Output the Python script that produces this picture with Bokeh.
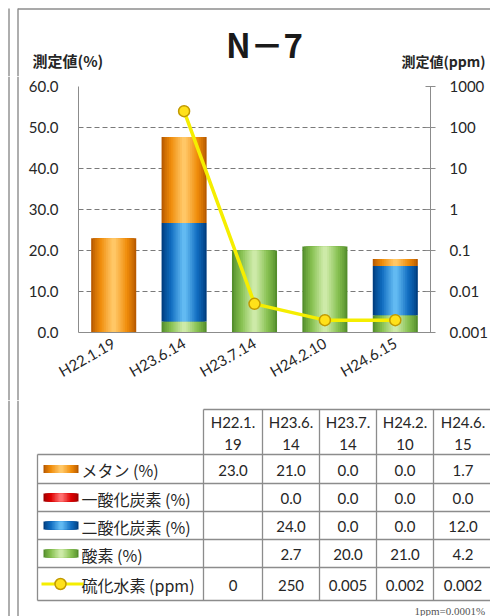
from bokeh.plotting import figure
from bokeh.models import (ColumnDataSource, Range1d, FactorRange, LogAxis,
                          FixedTicker, LogScale, NumeralTickFormatter)
from bokeh.layouts import column, row
from bokeh.embed import file_html
from bokeh.resources import INLINE
from bokeh.core.properties import value

# ---------------- data ----------------
dates = ["H22.1.19", "H23.6.14", "H23.7.14", "H24.2.10", "H24.6.15"]
methane = [23.0, 21.0, 0.0, 0.0, 1.7]
carbon_monoxide = [None, 0.0, 0.0, 0.0, 0.0]
carbon_dioxide = [None, 24.0, 0.0, 0.0, 12.0]
oxygen = [None, 2.7, 20.0, 21.0, 4.2]
h2s_ppm = [0, 250, 0.005, 0.002, 0.002]

series_labels = ["メタン (%)", "一酸化炭素 (%)", "二酸化炭素 (%)", "酸素 (%)", "硫化水素 (ppm)"]
pct_ticks = [0, 10, 20, 30, 40, 50, 60]
ppm_ticks = [0.001, 0.01, 0.1, 1, 10, 100, 1000]
ppm_tick_labels = ["0.001", "0.01", "0.1", "1", "10", "100", "1000"]
title_text = "N－7"
left_unit_text = "測定値(%)"
right_unit_text = "測定値(ppm)"
footnote_text = "1ppm=0.0001%"

# ---------------- styles ----------------
JP_NAME = "Noto Sans CJK JP"
NUM_NAME = "Lato"
JP = value(JP_NAME)
NUM = value(NUM_NAME)
GRAY = "#8c8c8c"
TXT = "#262626"
shade = {  # edge, mid, centre colours for the cylinder shading
    "ch4": ("#B85A00", "#F08C0A", "#FFC766"),
    "co": ("#A00000", "#DE0000", "#FF7070"),
    "co2": ("#003E80", "#106CC0", "#62BAF2"),
    "o2": ("#548E2C", "#86C050", "#CDEAA8"),
}
N_LAYERS = 12
layers = [(1.0 - 0.9 * i / (N_LAYERS - 1), (i / (N_LAYERS - 1)) ** 0.8) for i in range(N_LAYERS)]


def hx(c):
    return tuple(int(c[i:i + 2], 16) for i in (1, 3, 5))


def mix(stops, t):
    a, m, b = (hx(s) for s in stops)
    if t <= 0.5:
        u, lo, hi = t / 0.5, a, m
    else:
        u, lo, hi = (t - 0.5) / 0.5, m, b
    return "#%02x%02x%02x" % tuple(round(lo[i] + (hi[i] - lo[i]) * u) for i in range(3))


def num0(v):
    return 0.0 if v is None else v


def blank(w, h):
    f = figure(width=w, height=h, x_range=Range1d(0, w), y_range=Range1d(h, 0),
               x_axis_type=None, y_axis_type=None, min_border=0,
               output_backend="svg", toolbar_location=None)
    f.grid.visible = False
    f.outline_line_color = None
    f.frame_align = False
    return f


W = 490
H_HEAD, H_CHART, H_TAB = 76, 324, 216
STRIP = 20

# ---------------- header ----------------
hd = blank(W, H_HEAD)
hd.segment(x0=[8.5, 17.5, 17.5], y0=[8, 8, 8.5], x1=[8.5, 17.5, W], y1=[H_HEAD, H_HEAD, 8.5],
           line_color=GRAY, line_width=1.4)
hd.text(x=[264], y=[43], text=[title_text], text_align="center", text_baseline="middle",
        text_font=JP, text_font_size="33px", text_font_style="bold", text_color="#1a1a1a")
hd.text(x=[32], y=[60], text=[left_unit_text], text_align="left",
        text_baseline="middle", text_font=JP, text_font_size="15px", text_font_style="bold",
        text_color=TXT)
hd.text(x=[401], y=[60], text=[right_unit_text], text_align="left",
        text_baseline="middle", text_font=JP, text_font_size="14px", text_font_style="bold",
        text_color=TXT)

# ---------------- left strip beside the chart ----------------
st = blank(STRIP, H_CHART)
st.segment(x0=[8.5, 17.5], y0=[0, 0], x1=[8.5, 17.5], y1=[H_CHART, H_CHART],
           line_color=GRAY, line_width=1.4)

# ---------------- chart ----------------
p = figure(x_range=FactorRange(*dates), y_range=Range1d(0, 60), width=W - STRIP, height=H_CHART,
           output_backend="svg", toolbar_location=None,
           min_border_left=58, min_border_right=55, min_border_top=10, min_border_bottom=68)
p.frame_align = False
p.outline_line_color = None
p.xgrid.visible = False
p.ygrid.grid_line_color = "#7a7a7a"
p.ygrid.grid_line_dash = "5 3"
p.ygrid.grid_line_width = 1

p.extra_y_ranges = {"ppm": Range1d(0.001, 1000)}
p.extra_y_scales = {"ppm": LogScale()}

src = ColumnDataSource(dict(date=dates,
                            o2=[num0(v) for v in oxygen],
                            co2=[num0(v) for v in carbon_dioxide],
                            co=[num0(v) for v in carbon_monoxide],
                            ch4=[num0(v) for v in methane]))
keys = ["o2", "co2", "co", "ch4"]
for frac, t in layers:
    p.vbar_stack(keys, x="date", width=0.64 * frac, source=src,
                 fill_color=[mix(shade[k], t) for k in keys], line_color=None)

h2s_x = [d for d, v in zip(dates, h2s_ppm) if v > 0]
h2s_y = [v for v in h2s_ppm if v > 0]
p.line(h2s_x, h2s_y, y_range_name="ppm", line_color="#F5EE00", line_width=3.5)
p.scatter(h2s_x, h2s_y, y_range_name="ppm", size=11, fill_color="#FFE11A",
          line_color="#C29A00", line_width=1.5)

ly = p.yaxis[0]
ly.ticker = FixedTicker(ticks=pct_ticks)
ly.formatter = NumeralTickFormatter(format="0.0")
ly.major_tick_line_color = None
ly.minor_tick_line_color = None
ly.axis_line_color = GRAY
ly.major_label_standoff = 14
ly.major_label_text_font = NUM_NAME
ly.major_label_text_font_size = "15px"
ly.major_label_text_color = TXT

bx = p.xaxis[0]
bx.major_label_orientation = 0.52
bx.major_tick_line_color = None
bx.axis_line_color = GRAY
bx.major_label_standoff = 3
bx.major_label_text_font = NUM_NAME
bx.major_label_text_font_size = "15px"
bx.major_label_text_color = TXT

ry = LogAxis(y_range_name="ppm", ticker=FixedTicker(ticks=ppm_ticks),
             major_label_overrides=dict(zip(ppm_ticks, ppm_tick_labels)))
ry.axis_line_color = GRAY
ry.major_tick_line_color = GRAY
ry.major_tick_in = 5
ry.major_tick_out = 5
ry.minor_tick_line_color = None
ry.major_label_standoff = 14
ry.major_label_text_font = NUM_NAME
ry.major_label_text_font_size = "15px"
ry.major_label_text_color = TXT
p.add_layout(ry, "right")

# ---------------- table ----------------
tb = blank(W, H_TAB)
tb.segment(x0=[8.5, 17.5], y0=[0, 0], x1=[8.5, 17.5], y1=[H_TAB, H_TAB],
           line_color=GRAY, line_width=1.4)

col_edges = [37, 203, 262, 319, 376, 433, 492]
head_top = 9
row_edges = [54, 83, 111, 139, 167, 200]

hx0, hy0, hx1, hy1 = [col_edges[1]], [head_top], [col_edges[-1]], [head_top]
for y in row_edges:
    hx0.append(col_edges[0]); hx1.append(col_edges[-1]); hy0.append(y); hy1.append(y)
tb.segment(x0=hx0, y0=hy0, x1=hx1, y1=hy1, line_color=GRAY, line_width=1.3)
vx0, vy0, vx1, vy1 = [col_edges[0]], [row_edges[0]], [col_edges[0]], [row_edges[-1]]
for x in col_edges[1:-1]:
    vx0.append(x); vx1.append(x); vy0.append(head_top); vy1.append(row_edges[-1])
tb.segment(x0=vx0, y0=vy0, x1=vx1, y1=vy1, line_color=GRAY, line_width=1.3)

col_centers = [(col_edges[i] + col_edges[i + 1]) / 2 for i in range(1, 6)]
head1, head2 = [], []
for d in dates:
    k = d.index(".", d.index(".") + 1)
    head1.append(d[:k + 1])
    head2.append(d[k + 1:])
tb.text(x=col_centers, y=[21] * 5, text=head1, text_align="center", text_baseline="middle",
        text_font=NUM, text_font_size="15px", text_color=TXT)
tb.text(x=col_centers, y=[44] * 5, text=head2, text_align="center", text_baseline="middle",
        text_font=NUM, text_font_size="15px", text_color=TXT)

row_centers = [(row_edges[i] + row_edges[i + 1]) / 2 for i in range(5)]


def fmt_pct(v):
    return "" if v is None else "%.1f" % v


table_rows = [
    [fmt_pct(v) for v in methane],
    [fmt_pct(v) for v in carbon_monoxide],
    [fmt_pct(v) for v in carbon_dioxide],
    [fmt_pct(v) for v in oxygen],
    ["%g" % v for v in h2s_ppm],
]
for rc, vals in zip(row_centers, table_rows):
    tb.text(x=col_centers, y=[rc + 1] * 5, text=vals, text_align="center", text_baseline="middle",
            text_font=NUM, text_font_size="15px", text_color=TXT)

tb.text(x=[81] * 5, y=[rc + 1 for rc in row_centers], text=series_labels, text_align="left",
        text_baseline="middle", text_font=JP, text_font_size="16px", text_color=TXT)

icon_keys = ["ch4", "co", "co2", "o2"]
for frac, t in layers:
    tb.rect(x=[60.5] * 4, y=row_centers[:4], width=35 * frac, height=8,
            fill_color=[mix(shade[k], t) for k in icon_keys], line_color=None)
tb.line(x=[41, 83], y=[row_centers[4]] * 2, line_color="#F5EE00", line_width=3)
tb.scatter(x=[60], y=[row_centers[4]], size=11, fill_color="#FFE11A", line_color="#C29A00",
           line_width=1.5)

tb.text(x=[414], y=[210], text=[footnote_text], text_align="left", text_baseline="alphabetic",
        text_font=value("Liberation Serif"), text_font_size="11px", text_color="#555555")

layout = column(hd, row(st, p), tb)
open("out.html", "w").write(file_html(layout, INLINE))
